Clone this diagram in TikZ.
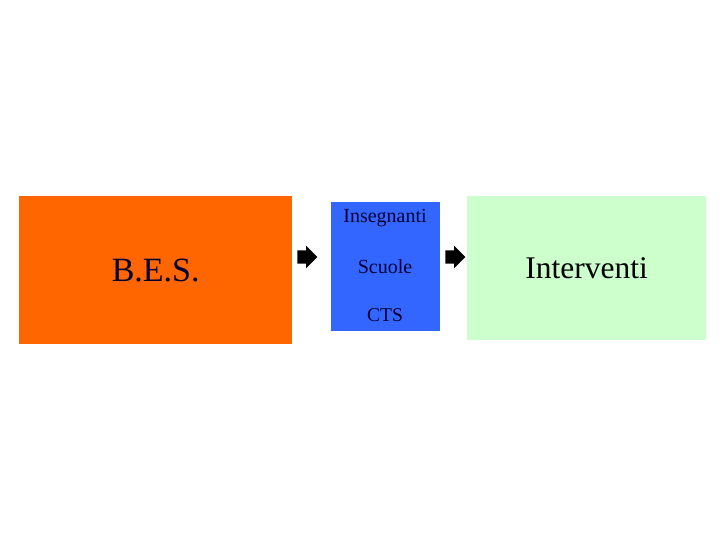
\documentclass[tikz,border=0pt]{standalone}
\usepackage{fontspec}
\setmainfont{Liberation Serif}
\usepackage{xcolor}
\usetikzlibrary{shapes.arrows}
\definecolor{besorange}{HTML}{FF6600}
\definecolor{midblue}{HTML}{3366FF}
\definecolor{lightgreen}{HTML}{CCFFCC}
\definecolor{darknavy}{HTML}{000033}
\tikzset{
  box/.style={rectangle, inner sep=0pt, anchor=north west},
  blockarrow/.style={single arrow, fill=black, draw=none, inner sep=6.5pt,
    minimum width=22pt, minimum height=18pt, single arrow head extend=4.5pt,
    single arrow head indent=0pt}
}
\begin{document}
\begin{tikzpicture}[x=1pt, y=-1pt]
  \useasboundingbox (0,0) rectangle (720,540);
  \node[box, fill=besorange, minimum width=273pt, minimum height=148pt] (bes) at (19,196) {};
  \node[box, fill=midblue, minimum width=109pt, minimum height=129pt] (mid) at (331,202) {};
  \node[box, fill=lightgreen, minimum width=239pt, minimum height=144pt] (int) at (467,196) {};
  \node[font=\fontsize{34}{36}\selectfont, text=darknavy] (bestext) at (bes.center) {B.E.S.};
  \node[font=\fontsize{31.5}{34}\selectfont] (inttext) at (int.center) {Interventi};
  \node[font=\fontsize{20}{22}\selectfont, text=darknavy] (ins) at (385,218) {Insegnanti};
  \node[font=\fontsize{20}{22}\selectfont, text=darknavy] (scu) at (385,267) {Scuole};
  \node[font=\fontsize{19.5}{22}\selectfont, text=darknavy] (cts) at (385,315) {CTS};
  \node[blockarrow] (arr1) at (304,257) {};
  \node[blockarrow] (arr2) at (452,257) {};
\end{tikzpicture}
\end{document}
